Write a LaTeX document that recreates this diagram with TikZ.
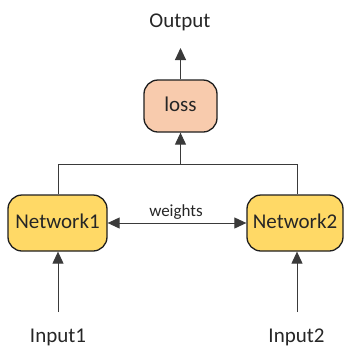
\documentclass[tikz,border=0pt]{standalone}
\usepackage{fontspec}
\setmainfont{Carlito}
\usetikzlibrary{arrows.meta}
\definecolor{netfill}{HTML}{FFD966}
\definecolor{lossfill}{HTML}{F8CBAD}
\definecolor{edgec}{HTML}{1F1F1F}
\definecolor{linec}{HTML}{3A3A3A}
\definecolor{txt}{HTML}{262626}
\tikzset{
  boxbase/.style={draw=edgec, line width=1.3pt, rounded corners=14pt, inner sep=0pt,
    font=\fontsize{21}{24}\selectfont, text=txt, text height=14pt, text depth=4pt},
  netbox/.style={boxbase, fill=netfill, minimum height=56pt},
  lossbox/.style={boxbase, fill=lossfill, minimum width=73pt, minimum height=52pt},
  lbl/.style={font=\fontsize{21}{24}\selectfont, text=txt, anchor=base, inner sep=0pt},
  smalllbl/.style={font=\fontsize{17}{20}\selectfont, text=txt, anchor=base, inner sep=0pt},
  conn/.style={draw=linec, line width=1pt},
  arr/.style={conn, -{Triangle[length=12pt,width=11pt]}},
  darr/.style={conn, {Triangle[length=12pt,width=11pt]}-{Triangle[length=12pt,width=11pt]}}
}
\begin{document}
\begin{tikzpicture}[x=1pt,y=-1pt]
\useasboundingbox (0,0) rectangle (345,349);
\node[netbox, minimum width=99pt] (n1) at (57.5,223) {Network1};
\node[netbox, minimum width=96pt] (n2) at (295,223) {Network2};
\node[lossbox] (loss) at (180.5,106) {loss};
\node[lbl] (out) at (180,27) {Output};
\node[lbl] (in1) at (58,342.5) {Input1};
\node[lbl] (in2) at (296.5,342.5) {Input2};
\node[smalllbl] (w) at (176,216) {weights};
\coordinate (outc) at (180.5,48);
\coordinate (in1c) at (58,312);
\coordinate (in2c) at (297,312);
\coordinate (j) at (180.5,164);
\coordinate (t1) at (58,164);
\coordinate (t2) at (297,164);
\draw[conn] (t1 |- n1.north) -- (t1) -- (t2) -- (t2 |- n2.north);
\draw[arr] (j) -- (loss.south);
\draw[arr] (loss.north) -- (outc);
\draw[arr] (in1c) -- (in1c |- n1.south);
\draw[arr] (in2c) -- (in2c |- n2.south);
\draw[darr] (n1.east) -- (n2.west);
\end{tikzpicture}
\end{document}
